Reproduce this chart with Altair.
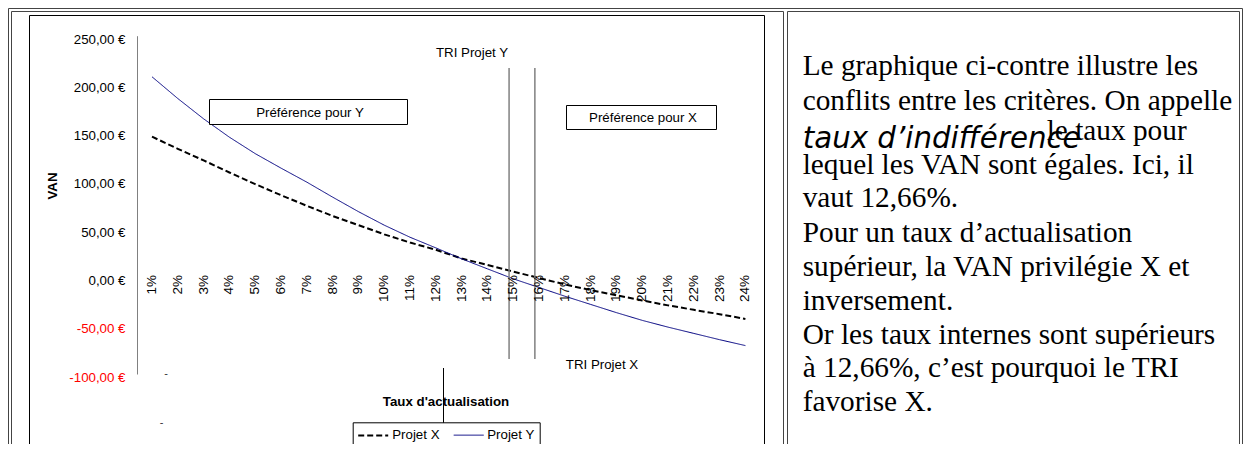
import altair as alt
import pandas as pd

# ---------------- data ----------------
rates = list(range(1, 25))
rate_labels = [f"{r}%" for r in rates]
projets = ["Projet X", "Projet Y"]
van_x = [145.5, 133, 121, 108.5, 96.5, 85, 74, 63.5, 54, 44.5, 36, 28.5,
         19.5, 12.8, 6, -0.7, -7.3, -13.2, -18.6, -23.9, -29, -33.6, -38.1, -43]
van_y = [207.5, 185, 164, 145, 128, 113, 98.5, 83, 68, 54, 41.5, 30.5,
         19.2, 8.8, -1.5, -10.5, -19.5, -28, -36.5, -44.5, -51.5, -58, -64.5, -70.6]
tri_rates = [14.84, 15.84]          # TRI Projet Y, TRI Projet X
y_ticks = [-100, -50, 0, 50, 100, 150, 200, 250]

para_lines = [
    "Le graphique ci-contre illustre les",
    "conflits entre les critères. On appelle",
    "lequel les VAN sont égales. Ici, il",
    "vaut 12,66%.",
    "Pour un taux d’actualisation",
    "supérieur, la VAN privilégie X et",
    "inversement.",
    "Or les taux internes sont supérieurs",
    "à 12,66%, c’est pourquoi le TRI",
    "favorise X.",
]
para_italic = "taux d’indifférence"
para_after_italic = "le taux pour"

df = pd.DataFrame({
    "rate": rates * 2,
    "van": van_x + van_y,
    "projet": [projets[0]] * len(rates) + [projets[1]] * len(rates),
})
df_labels = pd.DataFrame({"rate": rates, "lab": rate_labels})
df_tri = pd.DataFrame({"rate": tri_rates})
one = pd.DataFrame({"k": [0]})

SANS = "Liberation Sans"
SERIF = "Liberation Serif"

xscale = alt.Scale(domain=[0.5, 24.5], range=[131.1, 750.3], nice=False, zero=False)
yscale = alt.Scale(domain=[-100, 250], range=[366, 27.7], nice=False, zero=False)

yaxis = alt.Axis(
    values=y_ticks, orient="left", offset=-129, ticks=False, tickSize=0, grid=False,
    domainColor="#808080", domainWidth=1,
    labelExpr="(datum.value < 0 ? '-' : '') + replace(format(abs(datum.value), '.2f'), '.', ',') + ' €'",
    labelColor={"condition": {"test": "datum.value < 0", "value": "#ff0000"}, "value": "#000000"},
    labelFont=SANS, labelFontSize=13.3, labelPadding=12, labelOffset=3.3,
    labelBaseline="middle", title=None,
)

leg = alt.Legend(
    title=None, orient="none", legendX=344.7, legendY=414.3, direction="horizontal",
    symbolType="M-1,0H3", symbolSize=225, strokeColor="black", fillColor="white",
    padding=4.5, columnPadding=11, labelFont=SANS, labelFontSize=13.3,
    labelColor="black", labelOffset=18,
)


def txt(s, x, y, **kw):
    return alt.Chart(one).mark_text(text=s, **kw).encode(x=alt.value(x), y=alt.value(y))


def box(x1, y1, x2, y2, **kw):
    return alt.Chart(one).mark_rect(**kw).encode(
        x=alt.value(x1), x2=alt.value(x2), y=alt.value(y1), y2=alt.value(y2))


def vline(x, y1, y2, **kw):
    return alt.Chart(one).mark_rule(**kw).encode(
        x=alt.value(x), y=alt.value(y1), y2=alt.value(y2))


frame_kw = dict(fillOpacity=0, stroke="#444444", strokeWidth=1)
frames = [
    box(0.5, 0.5, 1234.5, 470, **frame_kw),
    box(3.5, 3.5, 775.5, 470, **frame_kw),
    box(779.5, 3.5, 1231.5, 470, **frame_kw),
    box(21.5, 7.5, 756.5, 441.5, fillOpacity=0, stroke="black", strokeWidth=1),
]

lines = alt.Chart(df).mark_line(strokeCap="butt").encode(
    x=alt.X("rate:Q", scale=xscale, axis=None),
    y=alt.Y("van:Q", scale=yscale, axis=yaxis),
    color=alt.Color("projet:N", scale=alt.Scale(domain=projets, range=["#000000", "#000080"]), legend=leg),
    strokeDash=alt.StrokeDash("projet:N", scale=alt.Scale(domain=projets, range=[[6, 3], [1, 0]]), legend=leg),
    strokeWidth=alt.StrokeWidth("projet:N", scale=alt.Scale(domain=projets, range=[2, 1]), legend=leg),
)

xlabels = alt.Chart(df_labels).mark_text(
    angle=270, align="right", baseline="middle", font=SANS, fontSize=13.5, color="black"
).encode(x=alt.X("rate:Q", scale=xscale, axis=None), y=alt.value(267), text="lab:N")

tri = alt.Chart(df_tri).mark_rule(color="#808080", strokeWidth=1.5).encode(
    x=alt.X("rate:Q", scale=xscale, axis=None), y=alt.value(60), y2=alt.value(351))

annot = [
    box(201.5, 91.5, 399.5, 116.5, fill="white", stroke="black", strokeWidth=1),
    box(558.5, 97.5, 708.5, 121.5, fill="white", stroke="black", strokeWidth=1),
    txt("Préférence pour Y", 302, 104.7, font=SANS, fontSize=13.3, baseline="middle", align="center"),
    txt("Préférence pour X", 635, 110.3, font=SANS, fontSize=13.3, baseline="middle", align="center"),
    txt("TRI Projet Y", 464, 45.3, font=SANS, fontSize=13.3, baseline="middle", align="center"),
    txt("TRI Projet X", 594, 357, font=SANS, fontSize=13.3, baseline="middle", align="center"),
    txt("Taux d'actualisation", 438, 394, font=SANS, fontSize=13.3, fontWeight="bold",
        baseline="middle", align="center"),
    txt("VAN", 45.3, 178, font=SANS, fontSize=13.3, fontWeight="bold", angle=270,
        baseline="middle", align="center"),
    txt("-", 158, 366, font=SANS, fontSize=11, baseline="middle", align="center", color="#333333"),
    txt("-", 153.7, 414.7, font=SANS, fontSize=11, baseline="middle", align="center", color="#333333"),
    vline(435.5, 360, 470, color="black", strokeWidth=1),
]

baselines = [67, 102, 166, 199.3, 233.7, 267.5, 301.5, 335.5, 369, 403]
para = [txt(s, 794.7, b, font=SERIF, fontSize=29.3, baseline="alphabetic", align="left", color="black")
        for s, b in zip(para_lines, baselines)]
para.append(txt(para_italic, 794.7, 140.3, font="DejaVu Sans", fontStyle="italic", fontSize=29.3,
                baseline="alphabetic", align="left", color="black"))
para.append(txt(para_after_italic, 1038.7, 132, font=SERIF, fontSize=29.3,
                baseline="alphabetic", align="left", color="black"))

chart = alt.layer(*frames, lines, tri, xlabels, *annot, *para).properties(
    width=1235, height=436, padding=0,
    autosize=alt.AutoSizeParams(type="none"), background="white",
).configure_view(stroke="transparent")

chart.save("out.html", embed_options={"renderer": "svg", "actions": False})
